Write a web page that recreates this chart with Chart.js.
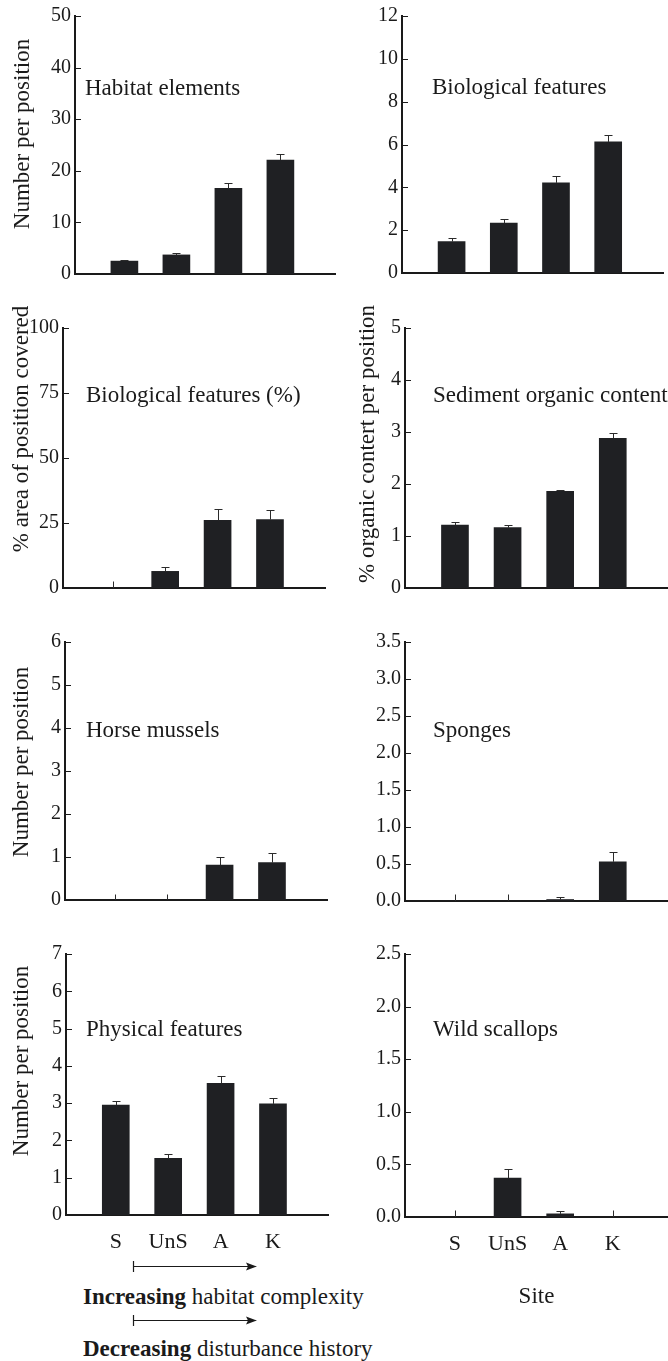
<!DOCTYPE html>
<html>
<head>
<meta charset="utf-8">
<script src="https://cdn.jsdelivr.net/npm/chart.js@4.4.1/dist/chart.umd.min.js"></script>
<style>
  html, body { margin: 0; padding: 0; background: #fff; }
  #page { position: relative; width: 668px; height: 1361px; overflow: hidden; background: #fff; }
  #page canvas { position: absolute; }
  #notes { position: absolute; left: 0; top: 0; }
</style>
</head>
<body>
<div id="page">
  <svg id="notes" width="668" height="1361" xmlns="http://www.w3.org/2000/svg"
       font-family="'Liberation Serif', 'Times New Roman', serif" font-size="23" fill="#1a1a1a">
    <g stroke="#1a1a1a" stroke-width="1.2">
      <line x1="133.5" y1="1261" x2="133.5" y2="1272" />
      <line x1="133.5" y1="1266.5" x2="252" y2="1266.5" />
      <line x1="133.5" y1="1315" x2="133.5" y2="1326" />
      <line x1="133.5" y1="1320.5" x2="252" y2="1320.5" />
    </g>
    <path d="M257 1266.5 L246 1262.5 L248 1266.5 L246 1270.5 Z" />
    <path d="M257 1320.5 L246 1316.5 L248 1320.5 L246 1324.5 Z" />
    <text x="83" y="1304"><tspan font-weight="bold">Increasing</tspan> habitat complexity</text>
    <text x="83" y="1356"><tspan font-weight="bold">Decreasing</tspan> disturbance history</text>
  </svg>
</div>
<script>
// site order along the x axis
const sites = ['S', 'UnS', 'A', 'K'];

// means and standard errors
const habitatElements = [2.5, 3.7, 16.6, 22.1];
const habitatElementsErr = [0.3, 0.4, 1.1, 1.1];
const biologicalFeatures = [1.47, 2.33, 4.21, 6.12];
const biologicalFeaturesErr = [0.16, 0.2, 0.34, 0.33];
const biologicalCover = [0, 6.4, 26.0, 26.3];
const biologicalCoverErr = [2.8, 1.7, 4.3, 3.7];
const sedimentOrganic = [1.21, 1.16, 1.86, 2.88];
const sedimentOrganicErr = [0.05, 0.05, 0.03, 0.11];
const horseMussels = [0, 0, 0.81, 0.87];
const horseMusselsErr = [0.15, 0.15, 0.2, 0.23];
const sponges = [0, 0, 0.02, 0.53];
const spongesErr = [0.09, 0.09, 0.04, 0.13];
const physicalFeatures = [2.95, 1.52, 3.53, 2.98];
const physicalFeaturesErr = [0.12, 0.11, 0.2, 0.15];
const wildScallops = [0, 0.37, 0.03, 0];
const wildScallopsErr = [0.065, 0.085, 0.025, 0.065];

// y tick values per panel
const habitatTicks = [0, 10, 20, 30, 40, 50];
const biologicalTicks = [0, 2, 4, 6, 8, 10, 12];
const coverTicks = [0, 25, 50, 75, 100];
const organicTicks = [0, 1, 2, 3, 4, 5];
const musselTicks = [0, 1, 2, 3, 4, 5, 6];
const spongeTicks = [0, 0.5, 1, 1.5, 2, 2.5, 3, 3.5];
const physicalTicks = [0, 1, 2, 3, 4, 5, 6, 7];
const scallopTicks = [0, 0.5, 1, 1.5, 2, 2.5];

const INK = '#1a1a1a';
const BAR = '#1f2023';
const SERIF = "'Liberation Serif', 'Times New Roman', serif";
const TOP_PAD = 32;

const panels = [
    { col: 0, values: habitatElements, errors: habitatElementsErr, ticks: habitatTicks, decimals: 0,
      axisX: 75, topY: 12, zeroY: 276, rightX: 335,
      label: 'Habitat elements', labelX: 85, labelY: 95,
      yTitle: 'Number per position', yTitleX: 29, yTitleY: 134 },
    { col: 1, values: biologicalFeatures, errors: biologicalFeaturesErr, ticks: biologicalTicks, decimals: 0,
      axisX: 402, topY: 12, zeroY: 275, rightX: 663,
      label: 'Biological features', labelX: 432, labelY: 94 },
    { col: 0, values: biologicalCover, errors: biologicalCoverErr, ticks: coverTicks, decimals: 0,
      axisX: 63, topY: 328, zeroY: 590, rightX: 325,
      label: 'Biological features (%)', labelX: 86, labelY: 402,
      yTitle: '% area of position covered', yTitleX: 28, yTitleY: 429 },
    { col: 1, values: sedimentOrganic, errors: sedimentOrganicErr, ticks: organicTicks, decimals: 0,
      axisX: 405, topY: 328, zeroY: 590, rightX: 668,
      label: 'Sediment organic content', labelX: 433, labelY: 402,
      yTitle: '% organic contert per position', yTitleX: 373.5, yTitleY: 444 },
    { col: 0, values: horseMussels, errors: horseMusselsErr, ticks: musselTicks, decimals: 0,
      axisX: 65, topY: 642, zeroY: 902, rightX: 327,
      label: 'Horse mussels', labelX: 86, labelY: 737,
      yTitle: 'Number per position', yTitleX: 28, yTitleY: 762 },
    { col: 1, values: sponges, errors: spongesErr, ticks: spongeTicks, decimals: 1,
      axisX: 405, topY: 642, zeroY: 903, rightX: 668,
      label: 'Sponges', labelX: 433, labelY: 737 },
    { col: 0, values: physicalFeatures, errors: physicalFeaturesErr, ticks: physicalTicks, decimals: 0,
      axisX: 66, topY: 954, zeroY: 1215, rightX: 328,
      label: 'Physical features', labelX: 86, labelY: 1036,
      yTitle: 'Number per position', yTitleX: 28, yTitleY: 1061, siteLabels: true },
    { col: 1, values: wildScallops, errors: wildScallopsErr, ticks: scallopTicks, decimals: 1,
      axisX: 405, topY: 954, zeroY: 1217, rightX: 668,
      label: 'Wild scallops', labelX: 433, labelY: 1036, siteLabels: true, xTitle: 'Site' }
];

/**
 * Error bars, inside ticks and the panel texts for one chart.
 */
function panelDecor(p, left, top) {
    return {
        id: 'panelDecor',
        afterDatasetsDraw(chart) {
            const ctx = chart.ctx;
            const ys = chart.scales.y;
            const ds = chart.data.datasets[0];
            ctx.save();
            ctx.strokeStyle = '#2b2b2b';
            ctx.lineWidth = 1;
            chart.getDatasetMeta(0).data.forEach((bar, i) => {
                const v = ds.data[i].y;
                const yBar = ys.getPixelForValue(v);
                const yTop = Math.round(ys.getPixelForValue(v + ds.errors[i])) + 0.5;
                const x = Math.round(bar.x) + 0.5;
                ctx.beginPath();
                ctx.moveTo(x, yBar);
                ctx.lineTo(x, yTop);
                if (v > 0) {
                    ctx.moveTo(x - 4, yTop);
                    ctx.lineTo(x + 4, yTop);
                }
                ctx.stroke();
            });
            ctx.restore();
        },
        afterDraw(chart) {
            const ctx = chart.ctx;
            const ys = chart.scales.y;
            const area = chart.chartArea;
            ctx.save();
            // tick marks point into the plot
            ctx.strokeStyle = INK;
            ctx.lineWidth = 1;
            for (const t of ys.ticks) {
                const y = Math.round(ys.getPixelForValue(t.value)) + 0.5;
                ctx.beginPath();
                ctx.moveTo(area.left, y);
                ctx.lineTo(area.left + 6, y);
                ctx.stroke();
            }
            ctx.fillStyle = INK;
            ctx.font = '23px ' + SERIF;
            ctx.textBaseline = 'alphabetic';
            ctx.textAlign = 'left';
            ctx.fillText(p.label, p.labelX - left, p.labelY - top);
            if (p.yTitle) {
                ctx.translate(p.yTitleX - left, p.yTitleY - top);
                ctx.rotate(-Math.PI / 2);
                ctx.textAlign = 'center';
                ctx.fillText(p.yTitle, 0, 0);
            }
            ctx.restore();
        }
    };
}

function buildPanel(p) {
    const page = document.getElementById('page');
    const left = p.col === 0 ? 0 : 340;
    const width = p.col === 0 ? 345 : 328;
    const top = Math.max(0, p.topY - TOP_PAD);
    const bottom = p.siteLabels ? 1311 : p.zeroY + 14;
    const height = bottom - top;

    const canvas = document.createElement('canvas');
    canvas.width = width;
    canvas.height = height;
    canvas.style.left = left + 'px';
    canvas.style.top = top + 'px';
    page.appendChild(canvas);

    const yWidth = p.axisX - left;
    const xHeight = bottom - p.zeroY;

    new Chart(canvas, {
        type: 'bar',
        data: {
            datasets: [{
                data: p.values.map((v, i) => ({ x: i + 1, y: v })),
                errors: p.errors,
                backgroundColor: BAR,
                borderWidth: 0,
                barThickness: 27
            }]
        },
        options: {
            responsive: false,
            animation: false,
            layout: { padding: { top: p.topY - top, left: 0, right: left + width - p.rightX, bottom: 0 } },
            plugins: { legend: { display: false }, tooltip: { enabled: false } },
            scales: {
                x: {
                    type: 'linear',
                    offset: false,
                    min: 0.05,
                    max: 5.05,
                    grid: { display: false, drawTicks: false, offset: false },
                    border: { display: true, width: 2, color: INK },
                    afterBuildTicks: s => { s.ticks = sites.map((_, i) => ({ value: i + 1 })); },
                    afterFit: s => { s.height = xHeight; },
                    ticks: {
                        display: !!p.siteLabels,
                        padding: 14,
                        color: INK,
                        maxRotation: 0,
                        autoSkip: false,
                        font: { family: SERIF, size: 22 },
                        callback: v => sites[v - 1]
                    },
                    title: {
                        display: !!p.xTitle,
                        text: p.xTitle || '',
                        color: INK,
                        padding: 0,
                        font: { family: SERIF, size: 23 }
                    }
                },
                y: {
                    min: 0,
                    max: p.ticks[p.ticks.length - 1],
                    grid: { display: false, drawTicks: false },
                    border: { display: true, width: 2, color: INK },
                    afterBuildTicks: s => { s.ticks = p.ticks.map(v => ({ value: v })); },
                    afterFit: s => { s.width = yWidth; },
                    ticks: {
                        padding: 4,
                        color: INK,
                        font: { family: SERIF, size: 20 },
                        callback: v => Number(v).toFixed(p.decimals)
                    }
                }
            }
        },
        plugins: [panelDecor(p, left, top)]
    });
}

for (const p of panels) {
    buildPanel(p);
}
</script>
</body>
</html>
